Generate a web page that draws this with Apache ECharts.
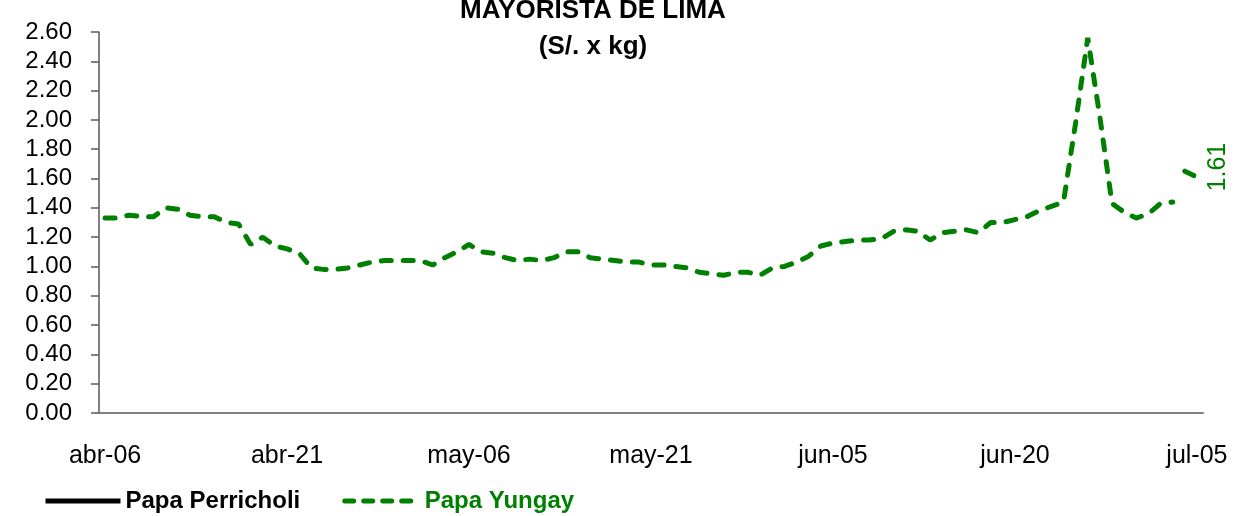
<!DOCTYPE html>
<html>
<head>
<meta charset="utf-8">
<script src="https://cdn.jsdelivr.net/npm/echarts@6/dist/echarts.min.js"></script>
<style>
html,body{margin:0;padding:0;background:#fff;}
#chart{width:1237px;height:516px;}
</style>
</head>
<body>
<div id="chart"></div>
<script>
// ---- data ----
const titleLines = ['MAYORISTA DE LIMA', '(S/. x kg)'];
const monthNames = ['ene','feb','mar','abr','may','jun','jul','ago','set','oct','nov','dic'];
const startDate = [2024, 3, 6];   // abr-06
const dayCount = 91;              // abr-06 .. jul-05
const yTicks = [0, 0.2, 0.4, 0.6, 0.8, 1.0, 1.2, 1.4, 1.6, 1.8, 2.0, 2.2, 2.4, 2.6];
const seriesNames = ['Papa Perricholi', 'Papa Yungay'];
const perricholi = [];
const yungay = [
  1.33, 1.33, 1.35, 1.34, 1.34, 1.40, 1.39, 1.35, 1.34, 1.34,
  1.30, 1.29, 1.15, 1.20, 1.14, 1.12, 1.09, 0.99, 0.98, 0.98,
  0.99, 1.01, 1.03, 1.04, 1.04, 1.04, 1.04, 1.01, 1.06, 1.10,
  1.15, 1.10, 1.09, 1.06, 1.04, 1.05, 1.04, 1.06, 1.10, 1.10,
  1.06, 1.05, 1.04, 1.03, 1.03, 1.01, 1.01, 1.00, 0.99, 0.96,
  0.95, 0.94, 0.96, 0.96, 0.94, 0.99, 1.00, 1.03, 1.07, 1.14,
  1.16, 1.17, 1.18, 1.18, 1.19, 1.24, 1.25, 1.24, 1.18, 1.23,
  1.24, 1.25, 1.23, 1.30, 1.30, 1.32, 1.34, 1.38, 1.41, 1.44,
  1.98, 2.56, 2.02, 1.43, 1.37, 1.33, 1.36, 1.43, 1.44, 1.65,
  1.61
];
const yungayBreakAfter = 88;  // the line is not drawn between these two days

// ---- build ----
const categories = [];
for (let i = 0; i < dayCount; i++) {
  const d = new Date(startDate[0], startDate[1], startDate[2] + i);
  categories.push(monthNames[d.getMonth()] + '-' + String(d.getDate()).padStart(2, '0'));
}
const yungayA = yungay.map((v, i) => i <= yungayBreakAfter ? v : null);
const yungayB = yungay.map((v, i) => i > yungayBreakAfter ? v : null);
const lastIdx = yungay.length - 1;

const FONT = "'Liberation Sans Narrow', 'Arial Narrow', 'Liberation Sans', Arial, sans-serif";
const GREEN = '#008000';

const chart = echarts.init(document.getElementById('chart'));
chart.setOption({
  animation: false,
  backgroundColor: '#ffffff',
  title: {
    text: titleLines.join('\n'),
    left: 588, top: -12, textAlign: 'center',
    textStyle: { fontFamily: FONT, fontSize: 26, fontWeight: 'bold', color: '#000', lineHeight: 36 }
  },
  grid: { left: 99, right: 34, top: 32, bottom: 103 },
  legend: {
    left: 38, top: 484,
    itemWidth: 75, itemHeight: 14, itemGap: 42,
    itemStyle: { opacity: 0 },
    data: [
      { name: seriesNames[0], textStyle: { color: '#000' },
        lineStyle: { color: '#000', width: 5, type: 'solid' } },
      { name: seriesNames[1], textStyle: { color: GREEN },
        lineStyle: { color: GREEN, width: 5, type: [9, 10], cap: 'round' } }
    ],
    textStyle: { fontFamily: FONT, fontSize: 24, fontWeight: 'bold' }
  },
  xAxis: {
    type: 'category',
    data: categories,
    boundaryGap: true,
    axisLine: { lineStyle: { color: '#808080', width: 2 } },
    axisTick: { interval: 14, length: 9, lineStyle: { color: '#404040', width: 1 } },
    axisLabel: { interval: 14, margin: 31, color: '#000', fontFamily: FONT, fontSize: 25 },
    splitLine: { show: false }
  },
  yAxis: {
    type: 'value',
    min: yTicks[0], max: yTicks[yTicks.length - 1], interval: 0.2,
    axisLine: { show: true, lineStyle: { color: '#595959', width: 1.5 } },
    axisTick: { show: true, length: 8, lineStyle: { color: '#595959', width: 1.5 } },
    axisLabel: { margin: 27, color: '#000', fontFamily: FONT, fontSize: 24,
      formatter: v => v.toFixed(2) },
    splitLine: { show: false }
  },
  series: [
    {
      name: seriesNames[0], type: 'line', data: perricholi,
      symbol: 'none',
      lineStyle: { color: '#000', width: 5 },
      itemStyle: { color: '#000' }
    },
    {
      name: seriesNames[1], type: 'line', data: yungayA,
      symbol: 'none',
      lineStyle: { color: GREEN, width: 5, type: [10, 12], cap: 'round' },
      itemStyle: { color: GREEN }
    },
    {
      name: seriesNames[1], type: 'line', data: yungayB,
      symbol: 'circle', symbolSize: 0, showSymbol: true,
      lineStyle: { color: GREEN, width: 5, type: [10, 12], cap: 'round' },
      itemStyle: { color: GREEN },
      label: {
        show: true,
        formatter: p => p.dataIndex === lastIdx ? p.value.toFixed(2) : '',
        position: [21, -10], rotate: 90, align: 'center', verticalAlign: 'middle',
        color: GREEN, fontFamily: FONT, fontSize: 25
      }
    }
  ]
});
</script>
</body>
</html>
